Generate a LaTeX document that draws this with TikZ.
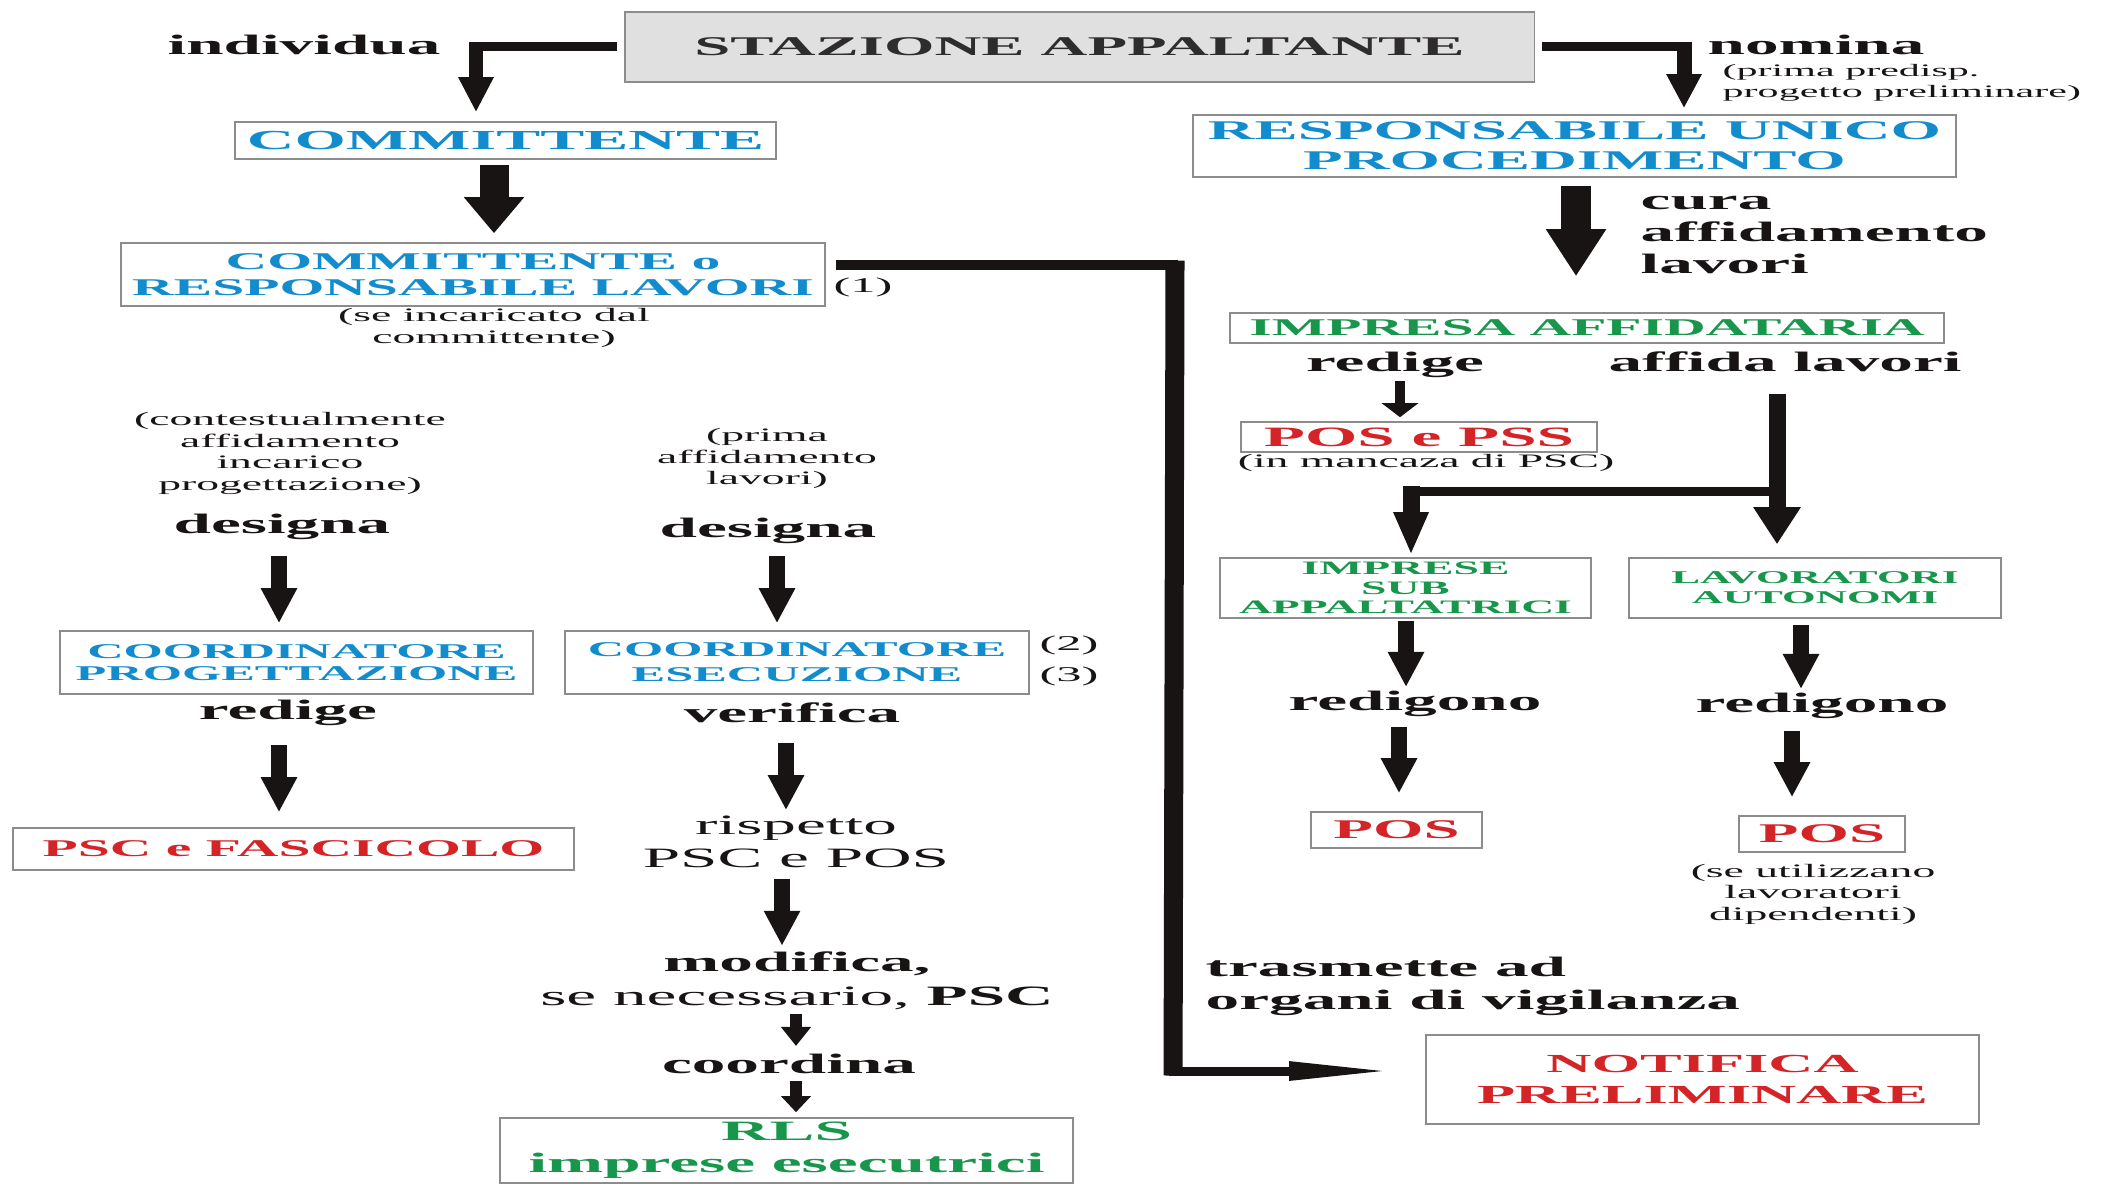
\documentclass[tikz,border=0pt]{standalone}
\usepackage{fontspec}
\setmainfont{Liberation Serif}[FakeStretch=2.4]
\usetikzlibrary{arrows.meta,calc}
\definecolor{ink}{RGB}{24,20,20}
\definecolor{boxc}{RGB}{140,140,140}
\definecolor{sagray}{RGB}{224,224,224}
\definecolor{cblue}{RGB}{18,140,205}
\definecolor{cred}{RGB}{212,36,40}
\definecolor{cgreen}{RGB}{24,150,76}
\newcommand\fsz[2]{\fontsize{#1mm}{#2mm}\selectfont}
\tikzset{
  bx/.style={draw=boxc, line width=0.45pt, inner sep=0pt, align=center},
  verb/.style={font=\fsz{2.8}{3.2}\bfseries, text=ink, inner sep=0pt, align=center},
  note/.style={font=\fsz{1.9}{2.15}, text=ink, inner sep=0pt, align=center},
  bigarr/.style={draw=ink, line width=0.29cm, -{Triangle[width=0.58cm,length=0.36cm]}},
  medarr/.style={draw=ink, line width=0.16cm, -{Triangle[width=0.34cm,length=0.35cm]}},
  smallarr/.style={draw=ink, line width=0.12cm, -{Triangle[width=0.29cm,length=0.18cm]}},
  bar/.style={draw=ink, line width=0.09cm},
}
\begin{document}
\begin{tikzpicture}[x=0.01cm,y=-0.01cm]
\useasboundingbox (0,0) rectangle (2104,1185);

% ---------- top ----------
\node[bx, fill=sagray, minimum width=9.09cm, minimum height=0.70cm, font=\fsz{2.7}{3}\bfseries, text=ink!90] (sa) at (1079.5,47) {STAZIONE APPALTANTE};
\node[verb] (indiv) at (304,45) {individua};
\node[bx, minimum width=5.41cm, minimum height=0.37cm, font=\fsz{2.75}{3}\bfseries, text=cblue] (comm) at (505.5,140.5) {\raisebox{-0.25mm}{COMMITTENTE}};
\node[bx, minimum width=7.04cm, minimum height=0.63cm, font=\fsz{2.4}{2.65}\bfseries, text=cblue] (commresp) at (473,274.5) {COMMITTENTE o\\RESPONSABILE LAVORI};
\node[font=\fsz{2.1}{2.4}, text=ink, inner sep=0pt] (n1) at (863,287) {(1)};
\node[note] (inc) at (494,328) {(se incaricato dal\\committente)};

% ---------- left column ----------
\node[note] (ctx) at (290,453.5) {(contestualmente\\affidamento\\incarico\\progettazione)};
\node[verb] (des1) at (282,527) {designa};
\node[bx, minimum width=4.73cm, minimum height=0.63cm, font=\fsz{2.1}{2.15}\bfseries, text=cblue] (cp) at (296.5,662.5) {COORDINATORE\\PROGETTAZIONE};
\node[verb] (red1) at (288,713) {redige};
\node[bx, minimum width=5.61cm, minimum height=0.42cm, font=\fsz{2.4}{2.6}\bfseries, text=cred] (psc) at (293.5,849) {PSC e FASCICOLO};

% ---------- middle column ----------
\node[note] (prima) at (767,458.5) {(prima\\affidamento\\lavori)};
\node[verb] (des2) at (768,531) {designa};
\node[bx, minimum width=4.64cm, minimum height=0.63cm, font=\fsz{2.1}{2.5}\bfseries, text=cblue] (ce) at (797,662.5) {COORDINATORE\\ESECUZIONE};
\node[font=\fsz{2.1}{2.4}, text=ink, inner sep=0pt] (n2) at (1069,645) {(2)};
\node[font=\fsz{2.1}{2.4}, text=ink, inner sep=0pt] (n3) at (1069,676) {(3)};
\node[verb] (ver) at (792,713) {verifica};
\node[font=\fsz{2.8}{3.35}, text=ink, align=center, inner sep=0pt] (risp) at (796,842) {rispetto\\PSC e POS};
\node[font=\fsz{2.8}{3.4}, text=ink, align=center, inner sep=0pt] (mod) at (797,981) {\textbf{modifica,}\\se necessario, \textbf{PSC}};
\node[verb] (coord) at (789,1064) {coordina};
\node[bx, minimum width=5.73cm, minimum height=0.65cm, font=\fsz{2.8}{3.2}\bfseries, text=cgreen] (rls) at (786.5,1150.5) {RLS\\imprese esecutrici};

% ---------- right side ----------
\node[verb, anchor=west] (nom) at (1707,45) {nomina};
\node[font=\fsz{1.75}{2.1}, text=ink, align=left, anchor=west, inner sep=0pt] (nomnote) at (1722,83) {(prima predisp.\\progetto preliminare)};
\node[bx, minimum width=7.63cm, minimum height=0.62cm, font=\fsz{2.7}{3.0}\bfseries, text=cblue] (rup) at (1574.5,146) {RESPONSABILE UNICO\\PROCEDIMENTO};
\node[verb, align=left, anchor=west, font=\fsz{2.8}{3.15}\bfseries] (cura) at (1640,235) {cura\\affidamento\\lavori};
\node[bx, minimum width=7.14cm, minimum height=0.30cm, font=\fsz{2.4}{2.6}\bfseries, text=cgreen] (ia) at (1587,328) {IMPRESA AFFIDATARIA};
\node[verb] (red2) at (1395,365) {redige};
\node[verb] (aff) at (1785,362) {affida lavori};
\node[bx, minimum width=3.56cm, minimum height=0.30cm, font=\fsz{2.8}{3}\bfseries, text=cred] (pospss) at (1419,437) {POS e PSS};
\node[note] (manc) at (1426,463) {(in mancaza di PSC)};
\node[bx, minimum width=3.71cm, minimum height=0.60cm, font=\fsz{1.9}{1.95}\bfseries, text=cgreen] (sub) at (1405.5,588) {IMPRESE\\SUB\\APPALTATRICI};
\node[bx, minimum width=3.72cm, minimum height=0.60cm, font=\fsz{1.8}{2.0}\bfseries, text=cgreen] (lav) at (1815,588) {LAVORATORI\\AUTONOMI};
\node[verb] (rg1) at (1415,704) {redigono};
\node[verb] (rg2) at (1822,706) {redigono};
\node[bx, minimum width=1.71cm, minimum height=0.36cm, font=\fsz{2.7}{3}\bfseries, text=cred] (pos1) at (1396.5,830) {POS};
\node[bx, minimum width=1.66cm, minimum height=0.36cm, font=\fsz{2.7}{3}\bfseries, text=cred] (pos2) at (1822,834) {POS};
\node[note] (util) at (1813,894) {(se utilizzano\\lavoratori\\dipendenti)};
\node[verb, align=left, anchor=west, font=\fsz{2.8}{3.3}\bfseries] (tras) at (1205,986) {trasmette ad\\organi di vigilanza};
\node[bx, minimum width=5.53cm, minimum height=0.89cm, font=\fsz{2.6}{3.1}\bfseries, text=cred] (notif) at (1702.5,1079.5) {NOTIFICA\\PRELIMINARE};
\coordinate (split) at (1777,491);

% ---------- connectors ----------
% stazione -> committente (individua)
\draw[bar, -{Triangle[width=0.33cm,length=0.35cm]}] ($(sa.west)+(-7,0)$) -| ($(comm.north)+(-29.5,-9)$);
\draw[draw=ink, line width=0.145cm] ($(comm.north)+(-29.5,-79.5)$) -- ($(comm.north)+(-29.5,-40)$);
% stazione -> RUP (nomina)
\draw[bar, -{Triangle[width=0.33cm,length=0.34cm]}] ($(sa.east)+(7,0)$) -| ($(rup.north)+(109.5,-6)$);
\draw[draw=ink, line width=0.15cm] ($(rup.north)+(109.5,-72.5)$) -- ($(rup.north)+(109.5,-40)$);
% committente -> committente o resp
\draw[bigarr] ($(comm.south)+(-11.5,5)$) -- ($(commresp.north)+(21,-9)$);
% committente o resp -> notifica
\draw[bar, -{Triangle[width=0.17cm,length=1.08cm]}] ($(commresp.east)+(10,-9.5)$) -| ($(notif.west)+(-252,-8.5)$) -- ($(notif.west)+(-28,-8.5)$);
\draw[draw=ink, line width=0.19cm] ($(commresp.east)+(349,-14)$) -- ($(notif.west)+(-252,-4)$);
% left column
\draw[medarr] ($(des1.south)+(-3,15.5)$) -- ($(cp.north)+(-17.5,-7)$);
\draw[medarr] ($(red1.south)+(-9,18.5)$) -- ($(psc.north)+(-14.5,-15)$);
% middle column
\draw[medarr] ($(des2.south)+(9,11.5)$) -- ($(ce.north)+(-20,-7)$);
\draw[medarr] ($(ver.south)+(-6,19.5)$) -- ($(risp.north)+(-10,-5)$);
\draw[medarr] ($(risp.south)+(-14,10)$) -- ($(mod.north)+(-15,-5.5)$);
\draw[smallarr, -{Triangle[width=0.29cm,length=0.19cm]}] ($(mod.south)+(-1,3.5)$) -- ($(coord.north)+(7,-7.5)$);
\draw[smallarr, -{Triangle[width=0.29cm,length=0.16cm]}] ($(coord.south)+(7,6.5)$) -- ($(rls.north)+(9.5,-5)$);
% right side
\draw[bigarr, line width=0.30cm, -{Triangle[width=0.57cm,length=0.47cm]}] ($(rup.south)+(1.5,8)$) -- ($(ia.north)+(-11,-36)$);
\draw[draw=ink, line width=0.10cm, -{Triangle[width=0.36cm,length=0.14cm]}] ($(red2.south)+(5,2.5)$) -- ($(pospss.north)+(-19,-4)$);
\draw[draw=ink, line width=0.17cm, -{Triangle[width=0.45cm,length=0.37cm]}] ($(aff.south)+(-8,21.5)$) -- ($(lav.north)+(-38,-13)$);
\draw[bar, -{Triangle[width=0.33cm,length=0.42cm]}] ($(split)+(8.5,0)$) -| ($(sub.north)+(5.5,-3)$);
\draw[draw=ink, line width=0.17cm] ($(sub.north)+(5.5,-71.5)$) -- ($(sub.north)+(5.5,-40)$);
\draw[medarr] ($(sub.south)+(0.5,2)$) -- ($(rg1.north)+(-9,-3.5)$);
\draw[medarr] ($(rg1.south)+(-16,9.5)$) -- ($(pos1.north)+(2.5,-18)$);
\draw[medarr] ($(lav.south)+(-14,6)$) -- ($(rg2.north)+(-21,-3.5)$);
\draw[medarr] ($(rg2.south)+(-30,11.5)$) -- ($(pos2.north)+(-30,-18)$);
\end{tikzpicture}
\end{document}
